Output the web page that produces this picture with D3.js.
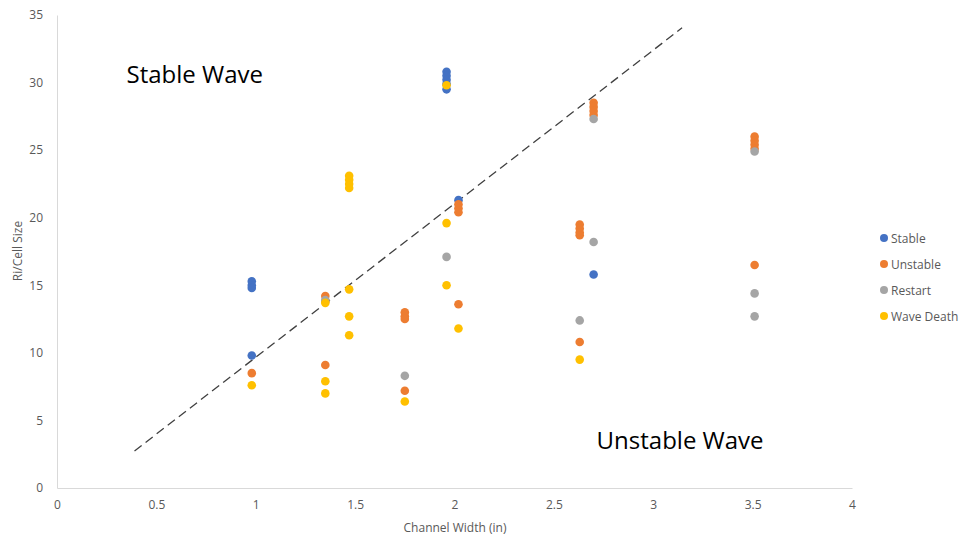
<!DOCTYPE html>
<html><head><meta charset="utf-8">
<script src="https://cdn.jsdelivr.net/npm/d3@7"></script>
<style>body{margin:0;background:#fff}svg{display:block}text{font-family:"Open Sans","Liberation Sans",sans-serif}</style>
</head><body><svg id="c" width="962" height="540"></svg>
<script>
const seriesNames = ["Stable","Unstable","Restart","Wave Death"];
const seriesColors = ["#4472C4","#ED7D31","#A5A5A5","#FFC000"];
const stable = [[0.98,15.3],[0.98,15.0],[0.98,14.8],[0.98,9.8],[1.96,30.8],[1.96,30.5],[1.96,30.2],[1.96,29.9],[1.96,29.5],[2.02,21.3],[2.7,15.8]];
const unstable = [[0.98,8.5],[1.35,14.2],[1.35,13.8],[1.35,9.1],[1.75,13.0],[1.75,12.7],[1.75,12.5],[1.75,7.2],[2.02,21.0],[2.02,20.7],[2.02,20.4],[2.02,13.6],[2.63,19.5],[2.63,19.2],[2.63,18.9],[2.63,18.7],[2.63,10.8],[2.7,28.5],[2.7,28.2],[2.7,27.9],[2.7,27.6],[3.51,26.0],[3.51,25.7],[3.51,25.4],[3.51,25.1],[3.51,16.5]];
const restart = [[1.35,13.9],[1.75,8.3],[1.96,17.1],[2.63,12.4],[2.7,27.3],[2.7,18.2],[3.51,24.9],[3.51,14.4],[3.51,12.7]];
const waveDeath = [[0.98,7.6],[1.35,13.7],[1.35,7.9],[1.35,7.0],[1.47,23.1],[1.47,22.8],[1.47,22.5],[1.47,22.2],[1.47,14.7],[1.47,12.7],[1.47,11.3],[1.75,6.4],[1.96,29.8],[1.96,19.6],[1.96,15.0],[2.02,11.8],[2.63,9.5]];
const boundary = [[0.39,2.74],[3.145,34.05]];
const xTicks = [0,0.5,1,1.5,2,2.5,3,3.5,4];
const yTicks = [0,5,10,15,20,25,30,35];
const annotations = [{text:"Stable Wave",x:0.35,y:30.0},{text:"Unstable Wave",x:2.715,y:2.9}];

const svg = d3.select("#c");
const x = d3.scaleLinear().domain([0,4]).range([57,852]);
const y = d3.scaleLinear().domain([0,35]).range([488,15]);

const xAxis = svg.append("g").attr("transform","translate(0,488)")
  .call(d3.axisBottom(x).tickValues(xTicks).tickSize(0).tickPadding(12).tickFormat(d=>d));
const yAxis = svg.append("g").attr("transform","translate(57,0)")
  .call(d3.axisLeft(y).tickValues(yTicks).tickSize(0).tickPadding(14).tickFormat(d=>d));
[xAxis,yAxis].forEach(a=>{
  a.select(".domain").attr("stroke","#d9d9d9").attr("stroke-width",1);
  a.selectAll("text").attr("fill","#595959").style("font-size","12px").style("font-family","'Open Sans',sans-serif");
});

svg.append("text").attr("x",455).attr("y",532).attr("text-anchor","middle")
  .attr("fill","#595959").style("font-size","12px").text("Channel Width (in)");
svg.append("text").attr("transform","translate(22,251) rotate(-90)").attr("text-anchor","middle")
  .attr("fill","#595959").style("font-size","12px").text("Ri/Cell Size");

svg.append("line").attr("x1",x(boundary[0][0])).attr("y1",y(boundary[0][1]))
  .attr("x2",x(boundary[1][0])).attr("y2",y(boundary[1][1]))
  .attr("stroke","#404040").attr("stroke-width",1.3).attr("stroke-dasharray","9,5");

const allSeries = [stable,unstable,restart,waveDeath];
allSeries.forEach((s,i)=>{
  svg.append("g").selectAll("circle").data(s).join("circle")
    .attr("cx",d=>x(d[0])).attr("cy",d=>y(d[1])).attr("r",4.3)
    .attr("fill",seriesColors[i]);
});

annotations.forEach(a=>{
  svg.append("text").attr("x",x(a.x)).attr("y",y(a.y)).attr("fill","#000")
    .style("font-size","24px").text(a.text);
});

const leg = svg.append("g");
seriesNames.forEach((n,i)=>{
  const g = leg.append("g").attr("transform",`translate(884,${238+i*26})`);
  g.append("circle").attr("r",4).attr("fill",seriesColors[i]);
  g.append("text").attr("x",7).attr("y",4.5).attr("fill","#595959").style("font-size","12px").text(n);
});
</script></body></html>
